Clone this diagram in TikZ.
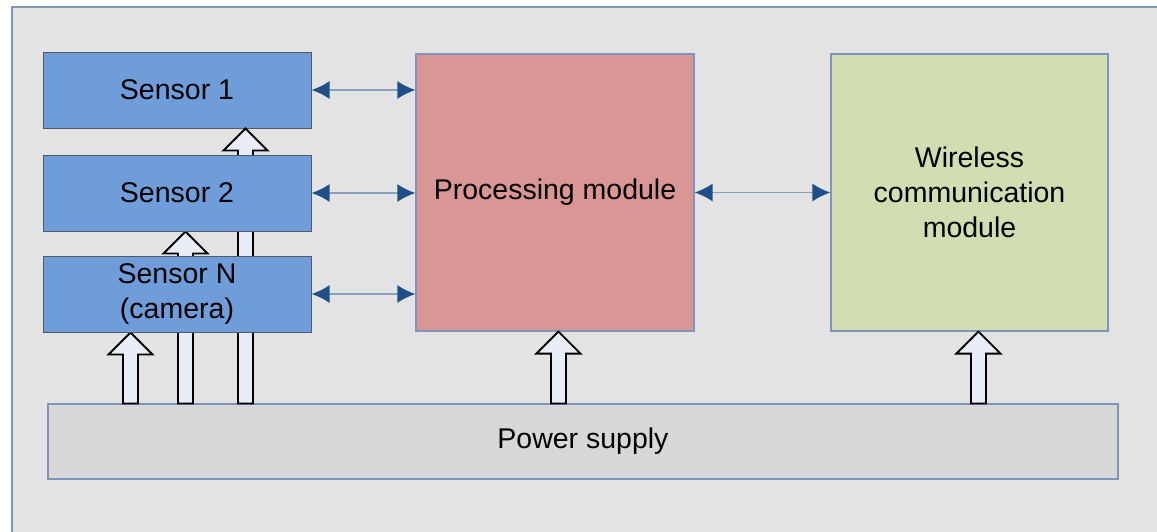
\documentclass[tikz,border=0pt]{standalone}
\usepackage{fontspec}
\setmainfont{Liberation Sans}
\usepackage{tikz}
\usetikzlibrary{arrows.meta,positioning,calc}

\definecolor{bggray}{HTML}{E3E3E3}
\definecolor{bgline}{HTML}{8094B4}
\definecolor{sensorblue}{HTML}{6F9DD9}
\definecolor{sensorline}{HTML}{505A68}
\definecolor{procred}{HTML}{DA9694}
\definecolor{wirelessgreen}{HTML}{D0DEB1}
\definecolor{powergray}{HTML}{D8D8D8}
\definecolor{boxline}{HTML}{7D95BA}
\definecolor{tipblue}{HTML}{1F4E89}
\definecolor{shaftblue}{HTML}{8AA0C0}
\definecolor{feedfill}{HTML}{E8EEF8}

% block arrow from the power supply up to a box: #1 = corner, #2 = x offset
\newcommand{\feedarrow}[2]{%
  \draw[feed] let \p1=($(#1)+(#2,0)$), \p2=(power.north) in
    (\x1-7.5pt,\y2) -- (\x1-7.5pt,\y1-22pt) -- (\x1-22pt,\y1-22pt) -- (\x1,\y1)
    -- (\x1+22pt,\y1-22pt) -- (\x1+7.5pt,\y1-22pt) -- (\x1+7.5pt,\y2) -- cycle;}

\begin{document}
\begin{tikzpicture}[x=1pt,y=-1pt,on grid,
  font=\fontsize{28.5}{35}\selectfont,
  sensor/.style={draw=sensorline,line width=1pt,fill=sensorblue,minimum width=268pt,minimum height=76pt,inner sep=0pt,align=center},
  module/.style={draw=boxline,line width=1.2pt,minimum width=278pt,minimum height=277pt,inner sep=0pt,align=center},
  link/.style={{Latex[length=18pt,width=18pt,color=tipblue]}-{Latex[length=18pt,width=18pt,color=tipblue]},draw=shaftblue,line width=1.8pt},
  feed/.style={draw=black,line width=1.8pt,fill=feedfill,line join=miter}]
  \useasboundingbox (0,0) rectangle (1157,531);
  \fill[bggray] (12,7) rectangle (1162,536);
  \draw[bgline,line width=1.2pt] (1162,7) -- (12,7) -- (12,536);

  \node[draw=boxline,line width=1.2pt,fill=powergray,minimum width=1070pt,minimum height=75pt] (power) at (583,441.5) {Power supply};

  \node[sensor] (s1) at (177,90) {Sensor 1};
  \node[sensor] (s2) [below=103pt of s1] {Sensor 2};
  \node[sensor] (sN) [below=101pt of s2] {Sensor N\\(camera)};

  % arrows behind the sensors
  \feedarrow{s1.south west}{203}
  \feedarrow{s2.south west}{143}
  \feedarrow{sN.south west}{88}

  % redraw the sensors over the shafts
  \node[sensor] at (s2) {Sensor 2};
  \node[sensor] at (sN) {Sensor N\\(camera)};

  \node[module,fill=procred] (proc) at (555,192.5) {Processing module};
  \node[module,fill=wirelessgreen,minimum width=277pt] (wire) [right=414.5pt of proc] {Wireless\\communication\\module};

  \feedarrow{proc.south west}{143}
  \feedarrow{wire.south west}{148}

  \path[every edge/.append style=link]
  (s1.east) edge (s1.east -| proc.west)
  (s2.east) edge (s2.east -| proc.west)
  (sN.east) edge (sN.east -| proc.west)
  (proc.east) edge (wire.west)
  ;
\end{tikzpicture}
\end{document}
